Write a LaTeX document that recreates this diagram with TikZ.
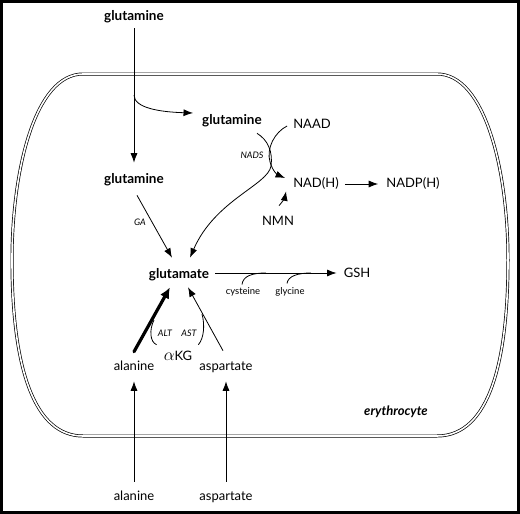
\documentclass[tikz,border=0pt]{standalone}
\usepackage{fontspec}
\setmainfont{Lato}
\usetikzlibrary{arrows.meta,calc}

\begin{document}
\begin{tikzpicture}[x=1pt, y=-1pt,
  mol/.style={font=\fontsize{13}{15}\selectfont, inner sep=2pt, text height=9.5pt, text depth=2.7pt},
  molb/.style={mol, font=\fontsize{13.5}{15}\selectfont\bfseries},
  enz/.style={font=\fontsize{9}{10}\selectfont\itshape, inner sep=1pt},
  aux/.style={font=\fontsize{9.5}{10}\selectfont, inner sep=1pt},
  arr/.style={-{Latex[length=9.5pt,width=7pt]}, line width=0.8pt},
  link/.style={line width=0.8pt}]
  \useasboundingbox (0,0) rectangle (520,514);
  \draw[line width=3pt] (1.5,1.5) rectangle (518.5,512.5);

  % Cell membrane (double line)
  \draw[double, double distance=1.6pt, line width=0.7pt]
    (83,74) -- (437,74) .. controls (485,74) and (508,170) .. (508,260)
    .. controls (508,360) and (490,436) .. (437,436) -- (83,436)
    .. controls (35,436) and (12,370) .. (12,260)
    .. controls (12,170) and (35,74) .. (83,74) -- cycle;
  \node[font=\fontsize{13}{15}\selectfont\bfseries\itshape] (ery) at (396,412) {erythrocyte};

  % Metabolites
  \node[molb] (glnOut) at (134,17) {glutamine};
  \node[molb] (glnCyt) at (134,180) {glutamine};
  \node[molb] (glnNad) at (232,121) {glutamine};
  \node[molb] (glu) at (179,275) {glutamate};
  \node[mol] (gsh) at (357,274) {GSH};
  \node[mol] (naad) at (312,125) {NAAD};
  \node[mol] (nad) at (316,184) {NAD(H)};
  \node[mol] (nadp) at (413,184) {NADP(H)};
  \node[mol] (nmn) at (278,222) {NMN};
  \node[mol] (akg) at (178,357) {{\fontsize{17}{17}\selectfont$\alpha$}KG};
  \node[mol] (alaIn) at (134,367) {alanine};
  \node[mol] (aspIn) at (226,367) {aspartate};
  \node[mol] (alaOut) at (134,497) {alanine};
  \node[mol] (aspOut) at (226,497) {aspartate};

  % Enzymes and co-substrates
  \node[enz] (ga) at (140,222) {GA};
  \node[enz] (nads) at (252,155) {NADS};
  \node[enz] (alt) at (165,333) {ALT};
  \node[enz] (ast) at (189,333) {AST};
  \node[aux] (cys) at (243,292) {cysteine};
  \node[aux] (gly) at (290,292) {glycine};

  % Uptake of glutamine
  \coordinate (branch) at (134,95);
  \draw[arr, shorten <=3pt, shorten >=9pt] (glnOut) -- (glnCyt);
  \draw[arr] (branch) .. controls (134,108) and (160,112) .. ($(glnNad.west)+(-7,-8)$);
  \draw[arr] ($(glnCyt.south)+(3,7)$) -- ($(glu.north)+(-7,-9)$);

  % NADS reaction
  \draw[arr] ($(glnNad.south)+(25,4)$) .. controls (268,140) and (273,152) .. (271,166)
    .. controls (268,185) and (215,200) .. ($(glu.north)+(11,-9)$);
  \draw[arr] ($(naad.west)+(-4,1)$) .. controls (275,132) and (266,148) .. (270,162)
    .. controls (273,172) and (278,175) .. ($(nad.west)+(-6,-6)$);
  \draw[arr] ($(nmn.north)+(1,-8)$) to[bend right=15] ($(nad.south west)+(-5,-1)$);
  \draw[arr] ($(nad.east)+(4,0)$) -- ($(nadp.west)+(-6,0)$);

  % GSH synthesis
  \coordinate (cysJoin) at (266,273);
  \coordinate (glyJoin) at (311,273);
  \draw[arr] ($(glu.east)+(4,-2)$) -- ($(gsh.west)+(-5,-1)$);
  \draw[link] ($(cys.north)+(-1,-2)$) .. controls (243,276) and (252,273) .. (cysJoin);
  \draw[link] ($(gly.north)+(-3,-3)$) .. controls (288,276) and (298,273) .. (glyJoin);

  % Transamination
  \draw[arr, line width=3.2pt, line cap=round, -{Latex[length=11pt,width=10pt]}]
    ($(alaIn.north)+(0,-7)$) -- ($(glu.south)+(-9,4)$);
  \draw[arr] ($(aspIn.north)+(-3,-8)$) -- ($(glu.south)+(9,4)$);
  \coordinate (altJoin) at (154,320);
  \coordinate (astJoin) at (202,314);
  \draw[link] (altJoin) .. controls (149,330) and (150,342) .. ($(akg.north west)+(-5,-4)$);
  \draw[link] (astJoin) .. controls (205,325) and (204,338) .. ($(akg.north east)+(4,-4)$);

  % Uptake of alanine and aspartate
  \draw[arr, shorten <=7pt, shorten >=6pt] (alaOut) -- (alaIn);
  \draw[arr, shorten <=7pt, shorten >=6pt] (aspOut) -- (aspIn);
\end{tikzpicture}
\end{document}
